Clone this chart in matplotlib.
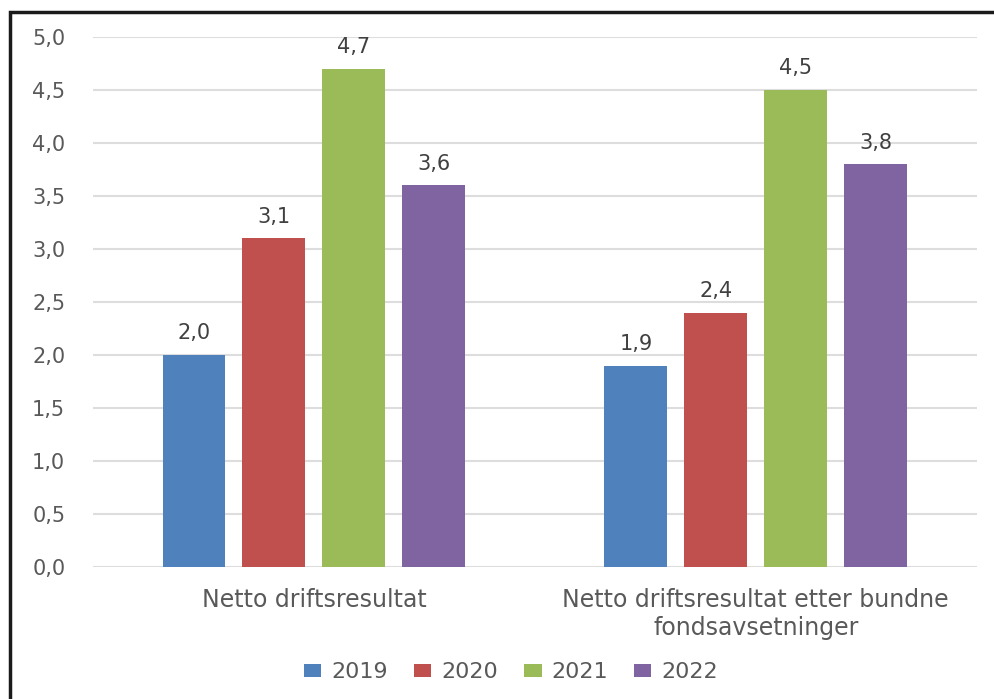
import numpy as np
import matplotlib as mpl
mpl.use('Agg')
import matplotlib.pyplot as plt
from matplotlib.patches import Rectangle

categories = ['Netto driftsresultat', 'Netto driftsresultat etter bundne\nfondsavsetninger']
years = ['2019', '2020', '2021', '2022']
values = {
    '2019': [2.0, 1.9],
    '2020': [3.1, 2.4],
    '2021': [4.7, 4.5],
    '2022': [3.6, 3.8],
}
colors = ['#4F81BD', '#C0504D', '#9BBB59', '#8064A2']

plt.rcParams['font.family'] = ['DejaVu Sans']
TXT = '#595959'

fig = plt.figure(figsize=(9.94, 6.99), dpi=100)
ax = fig.add_axes([0.0936, 0.189, 0.889, 0.758])

x = np.arange(len(categories))
w = 0.1425
step = 0.181
for i, yr in enumerate(years):
    pos = x + (i - 1.5) * step
    bars = ax.bar(pos, values[yr], width=w, color=colors[i], label=yr, zorder=3)
    for b, v in zip(bars, values[yr]):
        ax.text(b.get_x() + b.get_width() / 2, v + 0.11, f'{v:.1f}'.replace('.', ','),
                ha='center', va='bottom', fontsize=15, color='#404040')

ax.set_xlim(-0.5, 1.5)
ax.set_ylim(0, 5.0)
ax.set_yticks(np.arange(0, 5.01, 0.5))
ax.set_yticklabels([f'{t:.1f}'.replace('.', ',') for t in np.arange(0, 5.01, 0.5)])
ax.set_xticks(x)
ax.set_xticklabels(categories, linespacing=1.2, fontsize=17)
ax.tick_params(axis='both', length=0, colors=TXT)
ax.tick_params(axis='y', labelsize=15, pad=20)
ax.tick_params(axis='x', pad=15)
ax.grid(axis='y', color='#DDDDDD', linewidth=1.5, zorder=0)
ax.set_axisbelow(True)
for s in ax.spines.values():
    s.set_visible(False)

leg = fig.legend(loc='center', bbox_to_anchor=(0.514, 0.038), ncol=4, frameon=False,
                 fontsize=16, handlelength=0.8, handleheight=0.55, handletextpad=0.45,
                 columnspacing=1.15)
for t in leg.get_texts():
    t.set_color(TXT)

# frame around the chart (cropped at right and bottom)
fig.patches.append(Rectangle((9.5 / 994, -0.05), 1.2, 1 - 11.5 / 699 + 0.05,
                             transform=fig.transFigure, fill=False,
                             edgecolor='#1a1a1a', linewidth=2.5))

plt.savefig('out.png', dpi=100)
